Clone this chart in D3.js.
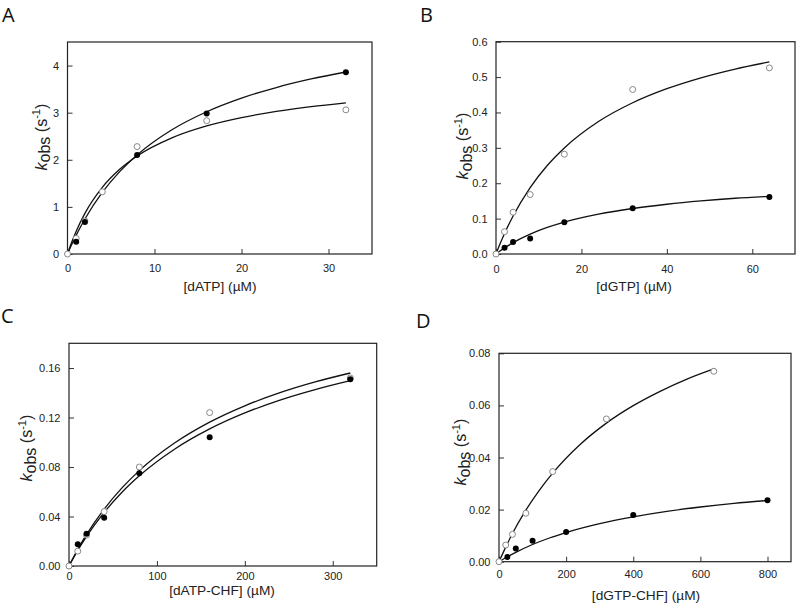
<!DOCTYPE html>
<html><head><meta charset="utf-8">
<script src="https://cdn.jsdelivr.net/npm/d3@7"></script>
<style>body{margin:0;background:#fff}</style>
</head><body>
<svg id="c" width="800" height="608" xmlns="http://www.w3.org/2000/svg"></svg>
<script>
// ---------- Panel A : [dATP] ----------
const aOpenX = [0, 1, 2, 4, 8, 16, 32];
const aOpenY = [0, 0.33, 0.70, 1.32, 2.28, 2.83, 3.06];
const aFilledX = [1, 2, 8, 16, 32];
const aFilledY = [0.26, 0.68, 2.10, 2.98, 3.86];
const aFitOpenX = [0, 0.5, 1, 2, 4, 6, 8, 12, 16, 20, 24, 28, 32];
const aFitOpenY = [0, 0.259, 0.485, 0.863, 1.415, 1.798, 2.080, 2.465, 2.718, 2.895, 3.027, 3.129, 3.210];
const aFitFilledX = [0, 0.5, 1, 2, 4, 6, 8, 12, 16, 20, 24, 28, 32];
const aFitFilledY = [0, 0.208, 0.400, 0.744, 1.307, 1.748, 2.102, 2.636, 3.020, 3.309, 3.534, 3.715, 3.863];
const aXTicks = [0, 10, 20, 30];
const aYTicks = [0, 1, 2, 3, 4];

// ---------- Panel B : [dGTP] ----------
const bOpenX = [0, 2, 4, 8, 16, 32, 64];
const bOpenY = [0, 0.063, 0.118, 0.168, 0.282, 0.465, 0.526];
const bFilledX = [2, 4, 8, 16, 32, 64];
const bFilledY = [0.018, 0.034, 0.044, 0.090, 0.129, 0.161];
const bFitOpenX = [0, 1, 2, 4, 8, 12, 16, 24, 32, 40, 48, 56, 64];
const bFitOpenY = [0, 0.0301, 0.0579, 0.1074, 0.1878, 0.2501, 0.2998, 0.3743, 0.4274, 0.4672, 0.4981, 0.5228, 0.5429];
const bFitFilledX = [0, 1, 2, 4, 8, 12, 16, 24, 32, 40, 48, 56, 64];
const bFitFilledY = [0, 0.0090, 0.0173, 0.0321, 0.0563, 0.0750, 0.0900, 0.1125, 0.1286, 0.1406, 0.1500, 0.1575, 0.1630];
const bXTicks = [0, 20, 40, 60];
const bYTicks = [0, 0.1, 0.2, 0.3, 0.4, 0.5, 0.6];

// ---------- Panel C : [dATP-CHF] ----------
const cOpenX = [0, 10, 20, 40, 80, 160, 320];
const cOpenY = [0, 0.012, 0.025, 0.044, 0.080, 0.124, 0.152];
const cFilledX = [10, 20, 40, 80, 160, 320];
const cFilledY = [0.0176, 0.026, 0.039, 0.075, 0.104, 0.151];
const cFitOpenX = [0, 10, 20, 40, 60, 80, 120, 160, 200, 240, 280, 320];
const cFitOpenY = [0, 0.0135, 0.0255, 0.0460, 0.0629, 0.0771, 0.0994, 0.1163, 0.1295, 0.1401, 0.1488, 0.1560];
const cFitFilledX = [0, 10, 20, 40, 60, 80, 120, 160, 200, 240, 280, 320];
const cFitFilledY = [0, 0.0126, 0.0239, 0.0433, 0.0594, 0.0729, 0.0944, 0.1108, 0.1237, 0.1341, 0.1426, 0.1498];
const cXTicks = [0, 100, 200, 300];
const cYTicks = [0, 0.04, 0.08, 0.12, 0.16];

// ---------- Panel D : [dGTP-CHF] ----------
const dOpenX = [0, 20, 40, 80, 160, 320, 640];
const dOpenY = [0, 0.0064, 0.0105, 0.0186, 0.0346, 0.0548, 0.0731];
const dFilledX = [25, 50, 100, 200, 400, 800];
const dFilledY = [0.0018, 0.0051, 0.0080, 0.0114, 0.0179, 0.0236];
const dFitOpenX = [0, 20, 40, 80, 120, 160, 240, 320, 400, 480, 560, 640];
const dFitOpenY = [0, 0.0056, 0.0108, 0.0198, 0.0274, 0.0340, 0.0448, 0.0532, 0.0599, 0.0654, 0.0701, 0.0740];
const dFitFilledX = [0, 25, 50, 100, 150, 200, 300, 400, 500, 600, 700, 800];
const dFitFilledY = [0, 0.0019, 0.0036, 0.0066, 0.0091, 0.0112, 0.0146, 0.0172, 0.0193, 0.0210, 0.0224, 0.0235];
const dXTicks = [0, 200, 400, 600, 800];
const dYTicks = [0, 0.02, 0.04, 0.06, 0.08];

const zip = (xs, ys) => xs.map((x, i) => [x, ys[i]]);

const panels = [
  { letter: "A", lx: 2, ly: 22, box: [67.5, 372, 42, 254], xd: [0, 35], yd: [0, 4.5],
    xt: aXTicks, yt: aYTicks, yf: d3.format("d"), xpad: 10,
    xlabel: "[dATP]", xlx: 220, xly: 291, ylx: 46.5, yly: 137,
    open: zip(aOpenX, aOpenY), filled: zip(aFilledX, aFilledY),
    fitOpen: zip(aFitOpenX, aFitOpenY), fitFilled: zip(aFitFilledX, aFitFilledY) },
  { letter: "B", lx: 420, ly: 22, box: [496, 795, 41.7, 254], xd: [0, 70], yd: [0, 0.6],
    xt: bXTicks, yt: bYTicks, yf: d3.format(".1f"), xpad: 11,
    xlabel: "[dGTP]", xlx: 634, xly: 291, ylx: 468, yly: 146,
    open: zip(bOpenX, bOpenY), filled: zip(bFilledX, bFilledY),
    fitOpen: zip(bFitOpenX, bFitOpenY), fitFilled: zip(bFitFilledX, bFitFilledY) },
  { letter: "C", lx: 1, ly: 323, box: [69, 376.7, 343.3, 566], xd: [0, 350], yd: [0, 0.18],
    xt: cXTicks, yt: cYTicks, yf: d3.format(".2f"), xpad: 6,
    xlabel: "[dATP-CHF]", xlx: 222, xly: 595, ylx: 32, yly: 448,
    open: zip(cOpenX, cOpenY), filled: zip(cFilledX, cFilledY),
    fitOpen: zip(cFitOpenX, cFitOpenY), fitFilled: zip(cFitFilledX, cFitFilledY) },
  { letter: "D", lx: 416, ly: 328, box: [499, 791, 353.3, 561.7], xd: [0, 870], yd: [0, 0.08],
    xt: dXTicks, yt: dYTicks, yf: d3.format(".2f"), xpad: 9,
    xlabel: "[dGTP-CHF]", xlx: 646, xly: 600, ylx: 466, yly: 452,
    open: zip(dOpenX, dOpenY), filled: zip(dFilledX, dFilledY),
    fitOpen: zip(dFitOpenX, dFitOpenY), fitFilled: zip(dFitFilledX, dFitFilledY) }
];

const svg = d3.select("#c");
const FONT = "'Liberation Sans', Arial, sans-serif";
const XLABEL_SIZE = 13.7;
const YLABEL_SIZE = 16;

panels.forEach(p => {
  const [L, R, T, B] = p.box;
  const g = svg.append("g");
  const x = d3.scaleLinear().domain(p.xd).range([L, R]);
  const y = d3.scaleLinear().domain(p.yd).range([B, T]);

  // panel letter
  g.append("text").attr("x", p.lx).attr("y", p.ly)
    .attr("font-family", "'Open Sans', 'Noto Sans', sans-serif").attr("font-size", 20)
    .attr("fill", "#111").text(p.letter);

  // axes
  const xa = g.append("g").attr("transform", `translate(0,${B})`)
    .call(d3.axisBottom(x).tickValues(p.xt).tickSize(-5).tickPadding(p.xpad).tickFormat(d3.format("d")));
  const ya = g.append("g").attr("transform", `translate(${L},0)`)
    .call(d3.axisLeft(y).tickValues(p.yt).tickSize(-5).tickPadding(8.5).tickFormat(p.yf));
  [xa, ya].forEach(a => {
    a.select(".domain").remove();
    a.selectAll("line").attr("stroke", "#333").attr("stroke-width", 1);
    a.selectAll("text").attr("font-family", FONT).attr("font-size", 11).attr("fill", "#222");
  });

  // frame
  g.append("rect").attr("x", L).attr("y", T).attr("width", R - L).attr("height", B - T)
    .attr("fill", "none").attr("stroke", "#222").attr("stroke-width", 1.2);

  // fitted curves
  const line = d3.line().x(d => x(d[0])).y(d => y(d[1])).curve(d3.curveMonotoneX);
  [p.fitOpen, p.fitFilled].forEach(c => {
    g.append("path").attr("d", line(c)).attr("fill", "none")
      .attr("stroke", "#111").attr("stroke-width", 1.3);
  });

  // points
  g.selectAll(".op").data(p.open).join("circle").attr("class", "op")
    .attr("cx", d => x(d[0])).attr("cy", d => y(d[1])).attr("r", 3)
    .attr("fill", "#fff").attr("stroke", "#888").attr("stroke-width", 1);
  g.selectAll(".fp").data(p.filled).join("circle").attr("class", "fp")
    .attr("cx", d => x(d[0])).attr("cy", d => y(d[1])).attr("r", 3)
    .attr("fill", "#000");

  // x label
  g.append("text").attr("x", p.xlx).attr("y", p.xly).attr("text-anchor", "middle")
    .attr("font-family", FONT).attr("font-size", XLABEL_SIZE).attr("fill", "#222")
    .text(p.xlabel + " (\u00B5M)");

  // y label
  const s = YLABEL_SIZE;
  const t = g.append("text").attr("text-anchor", "middle")
    .attr("transform", `translate(${p.ylx},${p.yly}) rotate(-90)`)
    .attr("font-family", FONT).attr("font-size", s).attr("fill", "#222");
  t.append("tspan").attr("font-style", "italic").text("k");
  t.append("tspan").attr("dy", s * 0.22).text("obs");
  t.append("tspan").attr("dy", -s * 0.22).text(" (s");
  t.append("tspan").attr("font-size", s * 0.7).attr("dy", -s * 0.4).text("-1");
  t.append("tspan").attr("dy", s * 0.4).text(")");
});
</script>
</body></html>
